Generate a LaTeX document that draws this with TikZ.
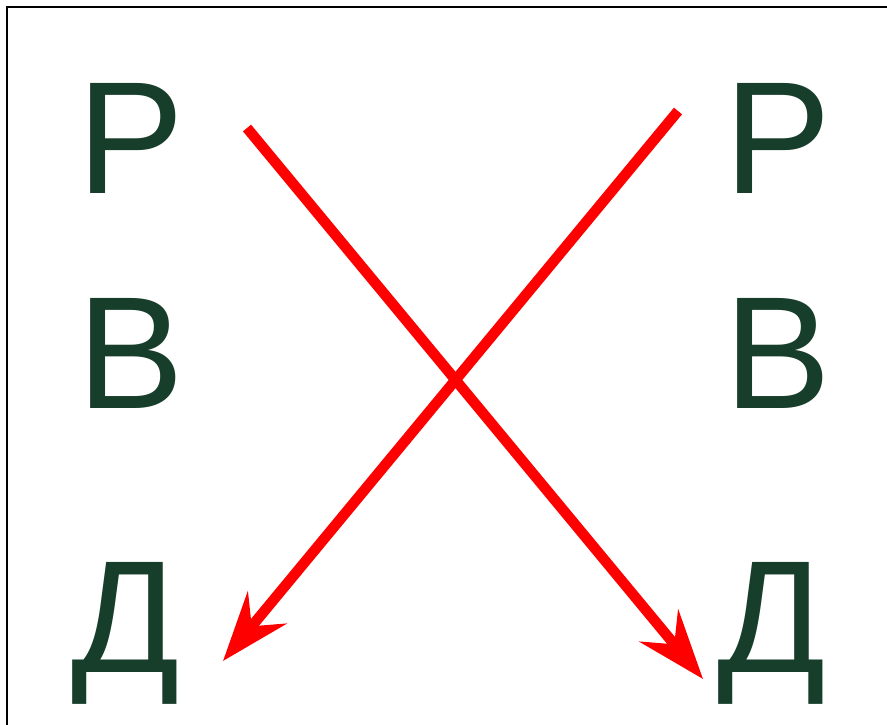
\documentclass[tikz,border=0pt]{standalone}
\usepackage{fontspec}
\setmainfont{Liberation Sans}
\usepackage{xcolor}
\usetikzlibrary{arrows.meta}
\definecolor{cInk}{HTML}{173D2B}
\definecolor{cCross}{HTML}{FF0000}
\tikzset{
  letter/.style={inner sep=0pt, anchor=base, text=cInk, font=\fontsize{160}{160}\selectfont},
  cross/.style={-{Stealth[length=69pt, width=50pt, inset=24pt]}, draw=cCross, line width=10.5pt},
}

\begin{document}
\begin{tikzpicture}[x=1pt, y=-1pt]
\clip (0,0) rectangle (887,725);
\fill[white] (0,0) rectangle (887,725);
\draw[line width=2.5pt] (7,7) rectangle (900,740);
% left column
\node[letter] (pL) at (131,193) {Р};
\node[letter] (vL) at (131,408) {В};
\node[letter] (dL) at (126,672) {Д};
% right column
\node[letter] (pR) at (778,193) {Р};
\node[letter] (vR) at (778,408) {В};
\node[letter] (dR) at (772,672) {Д};
% arrow ends
\coordinate (aFrom) at (247,128);
\coordinate (aTo) at (703,679);
\coordinate (bFrom) at (678,111);
\coordinate (bTo) at (223,661);
\draw[cross] (aFrom) -- (aTo);
\draw[cross] (bFrom) -- (bTo);
\end{tikzpicture}
\end{document}
